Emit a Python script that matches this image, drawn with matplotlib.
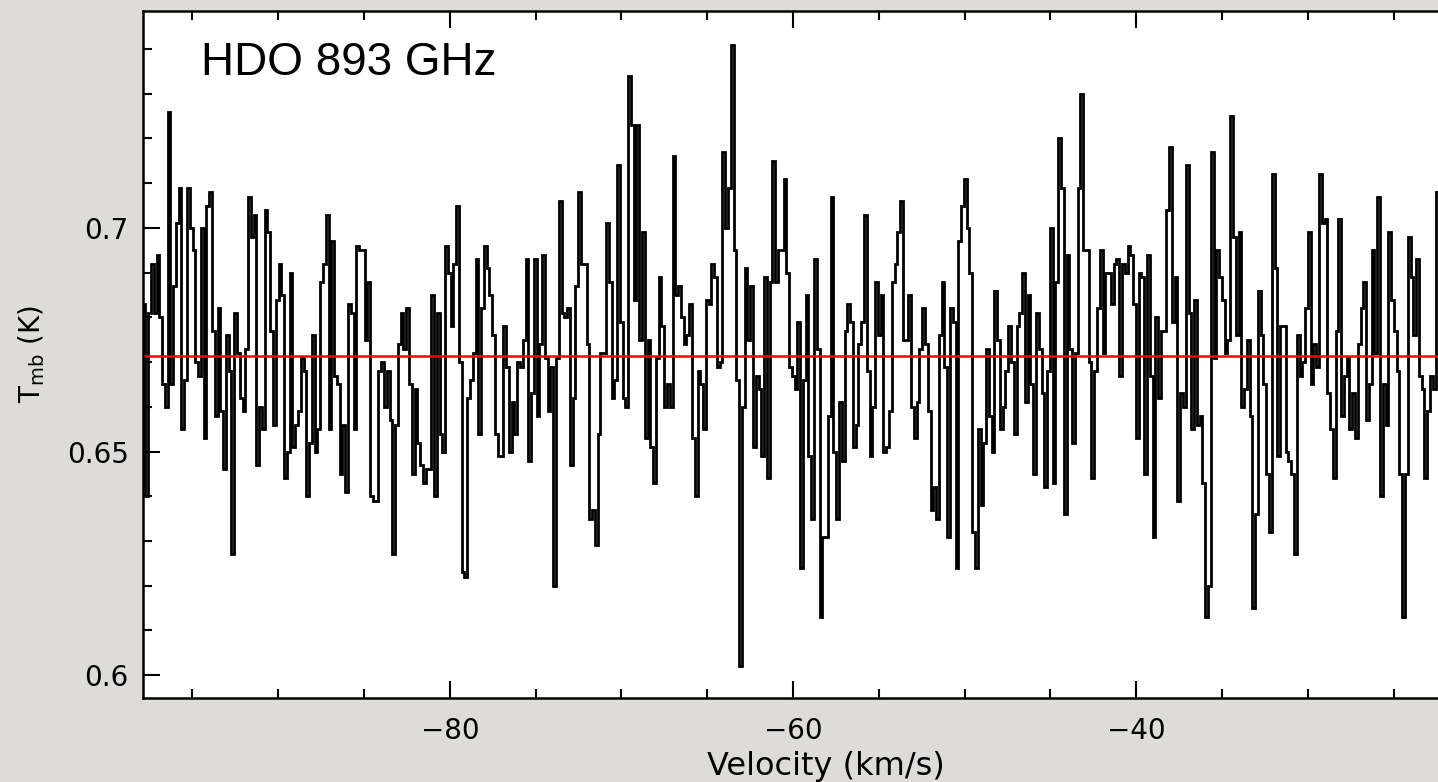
import numpy as np
import matplotlib.pyplot as plt
from matplotlib.ticker import MultipleLocator

# main-beam temperature per channel (K), read left to right in pieces
tmb_part1 = [0.683, 0.640, 0.681, 0.692, 0.681, 0.694, 0.680, 0.665, 0.660, 0.726,
             0.665, 0.687, 0.701, 0.709, 0.655, 0.666, 0.709, 0.700, 0.695, 0.670,
             0.667, 0.700, 0.653, 0.705, 0.708, 0.677, 0.658, 0.682, 0.659, 0.646,
             0.676, 0.668, 0.627, 0.681, 0.672, 0.662, 0.659, 0.673, 0.707, 0.698,
             0.703, 0.647, 0.660, 0.655, 0.704, 0.699, 0.677]
tmb_part2 = [0.656, 0.684, 0.692, 0.685, 0.644, 0.650, 0.690, 0.651, 0.656, 0.659,
             0.671, 0.668, 0.640, 0.652, 0.676, 0.650, 0.655, 0.688, 0.692, 0.703,
             0.655, 0.697, 0.667, 0.665, 0.645, 0.656, 0.641, 0.683, 0.681, 0.655,
             0.696, 0.695, 0.695, 0.675, 0.688, 0.640, 0.639, 0.639, 0.668, 0.670,
             0.660, 0.668, 0.657, 0.627, 0.656]
tmb_part3 = [0.674, 0.681, 0.673, 0.682, 0.665, 0.645, 0.664, 0.652, 0.647, 0.643,
             0.646, 0.646, 0.685, 0.640, 0.681, 0.654, 0.650, 0.696, 0.690, 0.678,
             0.692, 0.705, 0.670, 0.623, 0.622, 0.662, 0.666, 0.672, 0.693, 0.654,
             0.682, 0.696, 0.691, 0.685, 0.676, 0.654, 0.649, 0.649, 0.678, 0.669,
             0.650, 0.661, 0.654, 0.670, 0.669]
tmb_part4 = [0.675, 0.693, 0.648, 0.663, 0.693, 0.658, 0.674, 0.694, 0.671, 0.659,
             0.669, 0.620, 0.671, 0.706, 0.681, 0.680, 0.682, 0.647, 0.662, 0.687,
             0.708, 0.692, 0.692, 0.674, 0.635, 0.637, 0.629, 0.654, 0.672, 0.672,
             0.701, 0.688, 0.662, 0.666, 0.714, 0.679, 0.662, 0.660, 0.734, 0.723,
             0.684, 0.723, 0.675, 0.699]
tmb_part5 = [0.653, 0.675, 0.651, 0.643, 0.671, 0.689, 0.678, 0.660, 0.665, 0.660,
             0.716, 0.685, 0.687, 0.680, 0.674, 0.676, 0.683, 0.653, 0.640, 0.668,
             0.665, 0.655, 0.684, 0.683, 0.692, 0.689, 0.669, 0.670, 0.717, 0.700,
             0.709, 0.741, 0.695, 0.666, 0.602, 0.660, 0.691, 0.675, 0.687, 0.651,
             0.667, 0.664, 0.649, 0.689, 0.644]
tmb_part6 = [0.688, 0.715, 0.688, 0.695, 0.695, 0.711, 0.690, 0.669, 0.667, 0.664,
             0.679, 0.624, 0.666, 0.685, 0.649, 0.635, 0.693, 0.673, 0.613, 0.631,
             0.631, 0.658, 0.707, 0.650, 0.635, 0.661, 0.648, 0.677, 0.683, 0.679,
             0.651, 0.656, 0.674, 0.679, 0.703, 0.668, 0.649, 0.660, 0.688, 0.676,
             0.685, 0.650, 0.651, 0.659, 0.688]
tmb_part7 = [0.692, 0.699, 0.706, 0.675, 0.675, 0.685, 0.660, 0.653, 0.661, 0.673,
             0.682, 0.674, 0.659, 0.637, 0.642, 0.635, 0.676, 0.688, 0.669, 0.631,
             0.682, 0.679, 0.624, 0.697, 0.705, 0.711, 0.700, 0.690, 0.632, 0.624,
             0.655, 0.638, 0.652, 0.673, 0.658, 0.650, 0.686, 0.675, 0.655, 0.660,
             0.668, 0.678, 0.670, 0.654, 0.678]
tmb_part8 = [0.681, 0.690, 0.661, 0.685, 0.665, 0.645, 0.681, 0.673, 0.663, 0.642,
             0.668, 0.700, 0.643, 0.688, 0.720, 0.709, 0.636, 0.694, 0.673, 0.652,
             0.672, 0.709, 0.730, 0.695, 0.695, 0.670, 0.644, 0.668, 0.682, 0.695,
             0.672, 0.690, 0.690, 0.683, 0.692, 0.693, 0.667, 0.692, 0.690, 0.696,
             0.694, 0.683, 0.653, 0.690]
tmb_part9 = [0.689, 0.645, 0.694, 0.667, 0.631, 0.680, 0.662, 0.677, 0.677, 0.704,
             0.718, 0.679, 0.689, 0.639, 0.663, 0.660, 0.714, 0.681, 0.655, 0.684,
             0.656, 0.658, 0.643, 0.613, 0.620, 0.717, 0.671, 0.695, 0.689, 0.684,
             0.672, 0.675, 0.725, 0.698, 0.676, 0.699, 0.660, 0.664, 0.675, 0.658,
             0.615, 0.636, 0.686, 0.676, 0.665, 0.645, 0.632, 0.712, 0.691, 0.649,
             0.678, 0.678]
tmb_part10 = [0.650, 0.648, 0.645, 0.627, 0.676, 0.667, 0.670, 0.682, 0.699, 0.665,
              0.674, 0.669, 0.712, 0.701, 0.702, 0.663, 0.655, 0.644, 0.677, 0.702,
              0.658, 0.667, 0.671, 0.655, 0.663, 0.653, 0.674, 0.682, 0.688, 0.657,
              0.665, 0.695, 0.672, 0.707, 0.640, 0.665, 0.656, 0.699, 0.684, 0.677,
              0.668, 0.645, 0.613, 0.645, 0.698, 0.689, 0.676, 0.693, 0.667, 0.664,
              0.644, 0.659, 0.667, 0.664, 0.708]

tmb = np.array(tmb_part1 + tmb_part2 + tmb_part3 + tmb_part4 + tmb_part5
               + tmb_part6 + tmb_part7 + tmb_part8 + tmb_part9 + tmb_part10)

v_first = -97.9   # km/s, left edge of first channel
v_last = -22.4    # km/s, right edge of last channel shown
baseline = 0.6714
label = "HDO 893 GHz"

edges = np.linspace(v_first, v_last, len(tmb) + 1)

plt.rcParams['font.family'] = 'DejaVu Sans'
plt.rcParams['mathtext.fontset'] = 'dejavusans'

fig = plt.figure(figsize=(14.38, 7.82), dpi=100)
fig.patch.set_facecolor('#dddcd6')
# the frame runs a little past the right edge of the picture, as in the original crop
ax = fig.add_axes([0.0992, 0.1074, 0.9177, 0.8785])
ax.set_facecolor('white')

ax.stairs(tmb, edges, baseline=None, color='black', lw=2.0)
ax.axhline(baseline, color='#ff0000', lw=1.8)

ax.set_xlim(-97.9, -21.0)
ax.set_ylim(0.5949, 0.7485)

ax.xaxis.set_major_locator(MultipleLocator(20))
ax.xaxis.set_minor_locator(MultipleLocator(5))
ax.yaxis.set_major_locator(MultipleLocator(0.05))
ax.yaxis.set_minor_locator(MultipleLocator(0.01))
ax.yaxis.set_major_formatter(plt.FuncFormatter(lambda v, p: ('%g' % round(v, 3))))

ax.tick_params(which='both', direction='in', top=True, right=True, width=1.5,
               labelsize=20)
ax.tick_params(which='major', length=12, pad=14)
ax.tick_params(which='minor', length=6.5)
ax.tick_params(axis='y', which='major', pad=10)
for s in ax.spines.values():
    s.set_linewidth(1.8)

ax.set_xlabel("Velocity (km/s)", fontsize=23)
ax.xaxis.set_label_coords(0.518, -0.077)
ax.set_ylabel(r"T$_{\rm mb}$ (K)", fontsize=20, labelpad=14)

ax.text(0.0445, 0.907, label, transform=ax.transAxes, fontsize=33,
        family='Liberation Sans', va='baseline')

fig.savefig("out.png", dpi=100, facecolor=fig.get_facecolor())
